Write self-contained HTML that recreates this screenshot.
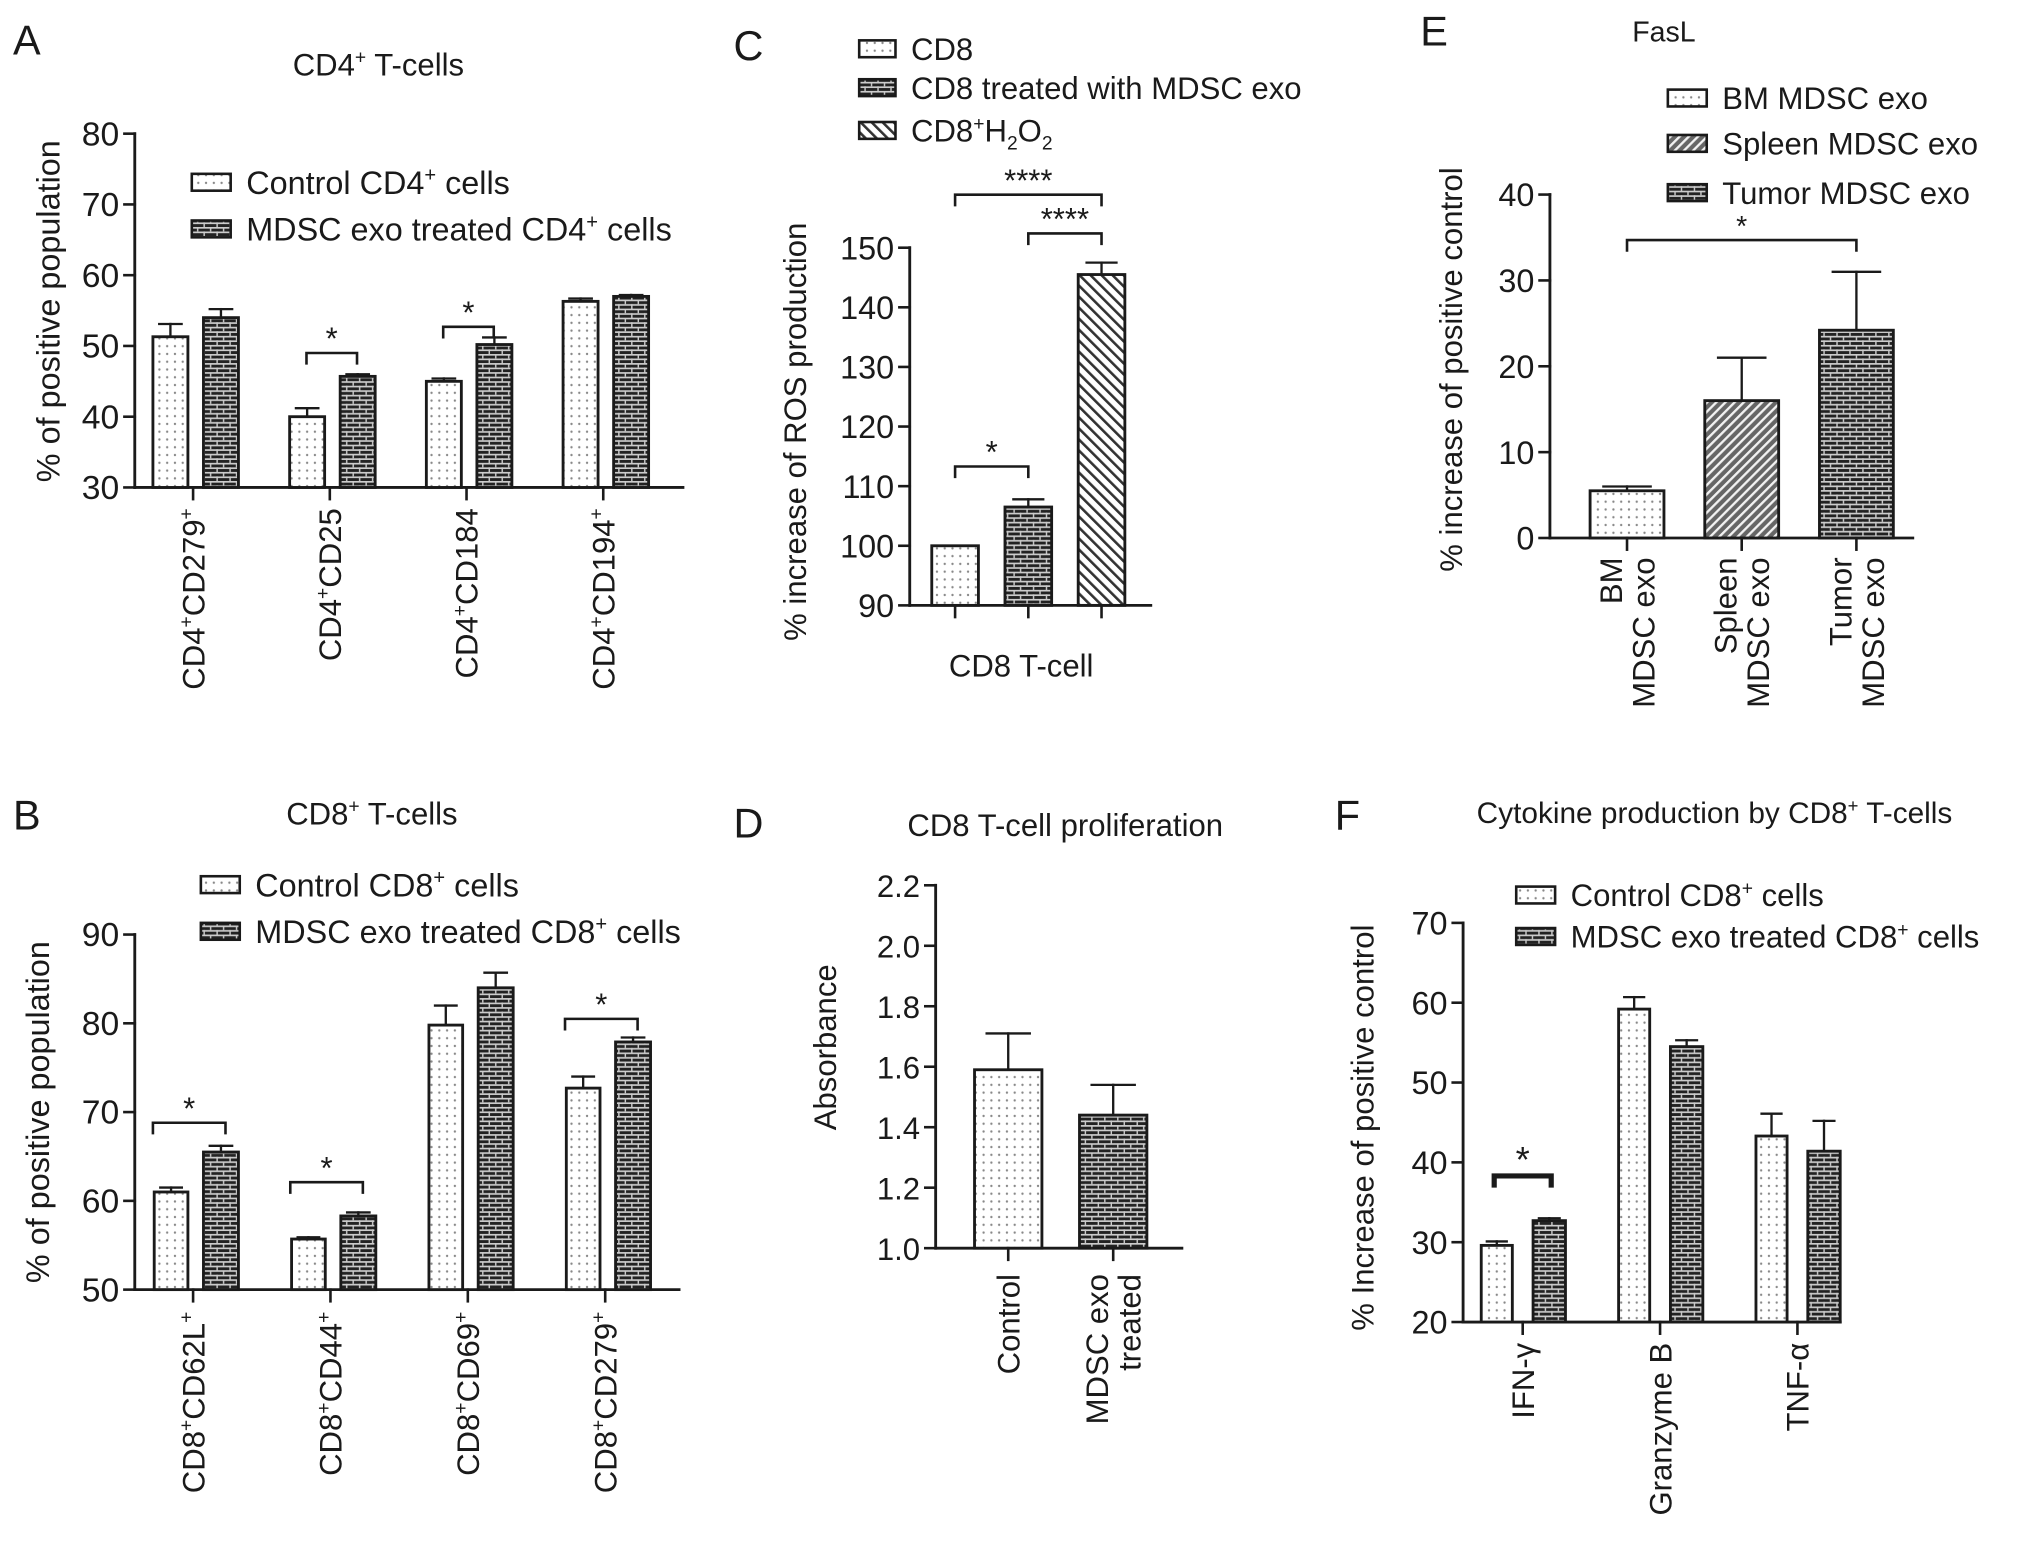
<!DOCTYPE html>
<html><head><meta charset="utf-8">
<style>
html,body{margin:0;padding:0;background:#fff;}
svg{display:block;}
text{font-family:"Liberation Sans",Arial,sans-serif;fill:#1a1a1a;}
.n{font-family:"Liberation Sans Narrow","Liberation Sans",sans-serif;}
</style></head>
<body>
<svg id="fig" xmlns="http://www.w3.org/2000/svg" width="2032" height="1549" viewBox="0 0 1568 1195">
<defs>
<pattern id="dots" width="6" height="6" patternUnits="userSpaceOnUse"><rect width="6" height="6" fill="#fff"/><circle cx="3" cy="3" r="0.9" fill="#888"/></pattern>
<pattern id="brick" width="10" height="7" patternUnits="userSpaceOnUse"><rect width="10" height="7" fill="#222"/><rect x="0" y="0" width="10" height="1.3" fill="#ccc"/><rect x="0" y="3.5" width="10" height="1.3" fill="#ccc"/><rect x="2" y="0" width="1.1" height="3.5" fill="#ccc"/><rect x="7" y="3.5" width="1.1" height="3.5" fill="#ccc"/></pattern>
<pattern id="hatch" width="6" height="6" patternUnits="userSpaceOnUse" patternTransform="rotate(-45)"><rect width="6" height="6" fill="#fff"/><rect x="0" y="0" width="2" height="6" fill="#333"/></pattern>
<pattern id="hatch2" width="5" height="5" patternUnits="userSpaceOnUse" patternTransform="rotate(45)"><rect width="5" height="5" fill="#666"/><rect x="0" y="0" width="1.8" height="5" fill="#f2f2f2"/></pattern>
</defs>
<g id="root"></g>
</svg>
<script>
// ---------- Panel A data ----------
const A_cats = ["CD4|CD279|", "CD4|CD25", "CD4|CD184", "CD4|CD194|"];
const A_ctrl = [51.3, 40.0, 45.0, 56.3];
const A_ctrlErr = [1.8, 1.2, 0.4, 0.4];
const A_mdsc = [54.0, 45.7, 50.2, 57.0];
const A_mdscErr = [1.2, 0.3, 1.0, 0.2];
const A_ticks = [30, 40, 50, 60, 70, 80];
const A_sigGroups = [1, 2];
const A_sigVals = [49.0, 52.7];
// ---------- Panel B data ----------
const B_cats = ["CD8|CD62L|", "CD8|CD44|", "CD8|CD69|", "CD8|CD279|"];
const B_ctrl = [61.0, 55.7, 79.8, 72.7];
const B_ctrlErr = [0.5, 0.2, 2.2, 1.3];
const B_mdsc = [65.5, 58.3, 84.0, 77.9];
const B_mdscErr = [0.7, 0.4, 1.7, 0.5];
const B_ticks = [50, 60, 70, 80, 90];
const B_sigGroups = [0, 1, 3];
const B_sigVals = [68.8, 62.1, 80.5];
// ---------- Panel C data ----------
const C_vals = [100, 106.5, 145.5];
const C_errs = [0, 1.3, 2.0];
const C_ticks = [90, 100, 110, 120, 130, 140, 150];
const C_sigPairs = [[0, 1], [1, 2], [0, 2]];
const C_sigVals = [113.3, 152.4, 158.9];
const C_sigText = ["*", "****", "****"];
// ---------- Panel D data ----------
const D_cats = ["Control", "MDSC exo|treated"];
const D_vals = [1.59, 1.44];
const D_errs = [0.12, 0.10];
const D_ticks = [1.0, 1.2, 1.4, 1.6, 1.8, 2.0, 2.2];
// ---------- Panel E data ----------
const E_cats = ["BM|MDSC exo", "Spleen|MDSC exo", "Tumor|MDSC exo"];
const E_vals = [5.5, 16.0, 24.2];
const E_errs = [0.5, 5.0, 6.8];
const E_ticks = [0, 10, 20, 30, 40];
const E_sigPairs = [[0, 2]];
const E_sigVals = [34.7];
// ---------- Panel F data ----------
const F_cats = ["IFN-γ", "Granzyme B", "TNF-α"];
const F_ctrl = [29.6, 59.2, 43.3];
const F_ctrlErr = [0.5, 1.5, 2.8];
const F_mdsc = [32.7, 54.5, 41.4];
const F_mdscErr = [0.3, 0.8, 3.8];
const F_ticks = [20, 30, 40, 50, 60, 70];
const F_sigGroups = [0];
const F_sigVals = [38.3];

const NS = "http://www.w3.org/2000/svg";
const root = document.getElementById('root');
function mk(tag, attrs, parent) {
  const e = document.createElementNS(NS, tag);
  for (const k in attrs) e.setAttribute(k, attrs[k]);
  (parent || root).appendChild(e);
  return e;
}
function line(x1, y1, x2, y2, sw, p) { return mk('line', {x1, y1, x2, y2, stroke: '#1a1a1a', 'stroke-width': sw || 2, 'stroke-linecap': 'square'}, p); }
function txt(x, y, s, size, opts, p) {
  const a = Object.assign({x, y, 'font-size': size}, opts || {});
  const t = mk('text', a, p);
  t.textContent = s;
  return t;
}
function richText(x, y, str, size, opts, p) {
  const t = mk('text', Object.assign({x, y, 'font-size': size}, opts || {}), p);
  const re = /(\^[^^]*\^|_[^_]*_)/g;
  const parts = str.split(re).filter(s => s !== '');
  let shift = 0;
  parts.forEach(part => {
    const ts = document.createElementNS(NS, 'tspan');
    let d = 0, fs = size;
    if (part[0] === '^') { d = -size * 0.38; fs = size * 0.62; part = part.slice(1, -1); }
    else if (part[0] === '_') { d = size * 0.25; fs = size * 0.62; part = part.slice(1, -1); }
    ts.setAttribute('dy', d - shift);
    ts.setAttribute('font-size', fs);
    shift = d;
    ts.textContent = part;
    t.appendChild(ts);
  });
  return t;
}
function yScale(L) { return v => L.bot - (v - L.vmin) / (L.vmax - L.vmin) * (L.bot - L.top); }

function axes(L, ticks, cls, name) {
  const g = mk('g', {class: cls || ''});
  
  
  const y = yScale(L);
  line(L.ax, y(L.vmax), L.ax, L.bot, 2.2, g);
  line(L.ax, L.bot, L.xEnd, L.bot, 2.2, g);
  ticks.forEach(v => {
    line(L.ax - 8, y(v), L.ax, y(v), 2, g);
    const t = txt(L.ax - 12, y(v) + 9, L.fmt ? L.fmt(v) : String(v), L.tickSize || 23, {'text-anchor': 'end', class: cls || ''}, g);
    
    
  });
  return g;
}
function bar(L, x, w, v, err, fill, name) {
  const y = yScale(L);
  const r = mk('rect', {x, y: y(v), width: w, height: L.bot - y(v), fill, stroke: '#1a1a1a', 'stroke-width': 2.2});
  
  
  if (err > 0) {
    const cx = x + w / 2, cw = w * 0.32;
    const e1 = line(cx, y(v), cx, y(v + err), 1.8);
    
    
    line(cx - cw, y(v + err), cx + cw, y(v + err), 1.8);
  }
  return r;
}
function bracket(L, x1, x2, v, star, sw, name, starSize) {
  const y = yScale(L)(v);
  const g = mk('g', {});
  
  
  const s = sw || 2;
  mk('polyline', {points: `${x1},${y + 9} ${x1},${y} ${x2},${y} ${x2},${y + 9}`, fill: 'none', stroke: '#1a1a1a', 'stroke-width': s}, g);
  txt((x1 + x2) / 2, y - 3, star, starSize || 24, {'text-anchor': 'middle'}, g);
}
function xTick(L, cx) { line(cx, L.bot, cx, L.bot + 9, 2); }
function rotLabel(cx, yTop, str, size, cls, name) {
  const lines = str.split('\n');
  const n = lines.length, lh = size * 1.05;
  lines.forEach((ln, i) => {
    const off = (i - (n - 1) / 2) * lh + size * 0.36;
    const t = richText(0, 0, ln, size, {'text-anchor': 'end', transform: `translate(${cx + off},${yTop}) rotate(-90)`, class: cls || ''});
    
    
  });
}
function supLabel(s) {
  return s.split('|').map((p, i, arr) => i < arr.length - 1 ? p + '^+^' : p).join('');
}
function legendEntry(x, y, w, h, fill, label, size, cls, name) {
  const g = mk('g', {});
  
  
  mk('rect', {x, y, width: w, height: h, fill, stroke: '#1a1a1a', 'stroke-width': 2}, g);
  richText(x + w + 12, y + h / 2 + size * 0.36, label, size, {class: cls || ''}, g);
}
function title(x, y, s, size, cls, name, anchor) {
  const t = richText(x, y, s, size, {'text-anchor': anchor || 'middle', class: cls || ''});
  
  
}
function yTitle(x, cy, s, size, cls, name) {
  const t = richText(0, 0, s, size, {'text-anchor': 'middle', transform: `translate(${x},${cy}) rotate(-90)`, class: cls || ''});
  
  
}

// ================= Panel A =================
(function () {
  const L = {ax: 104, top: 103, bot: 376, vmin: 30, vmax: 80, xEnd: 527, tickSize: 26};
  axes(L, A_ticks, 'n', 'panel-a');
  const c0 = 149, gs = 105.5;
  A_cats.forEach((c, i) => {
    const cx = c0 + i * gs;
    bar(L, cx - 31, 27, A_ctrl[i], A_ctrlErr[i], 'url(#dots)', 'bar-a-control-' + i);
    bar(L, cx + 8, 27, A_mdsc[i], A_mdscErr[i], 'url(#brick)', 'bar-a-mdsc-' + i);
    xTick(L, cx);
    rotLabel(cx, 392, supLabel(c), 24, 'n', 'panel-a-x-label');
  });
  A_sigGroups.forEach((g, k) => { const cx = c0 + g * gs; bracket(L, cx - 18, cx + 21, A_sigVals[k], '*', 2, 'panel-a-significance'); });
  title(10, 42, 'A', 32, '', 'panel-a-letter', 'start');
  title(292, 58, 'CD4^+^ T-cells', 24, 'n', 'panel-a-title');
  yTitle(46, 240, '% of positive population', 25, '', 'panel-a-y-title');
  legendEntry(148, 134, 30, 13, 'url(#dots)', 'Control CD4^+^ cells', 25, 'n', 'legend-control-cd4');
  legendEntry(148, 170, 30, 13, 'url(#brick)', 'MDSC exo treated CD4^+^ cells', 25, 'n', 'legend-mdsc-cd4');
})();

// ================= Panel B =================
(function () {
  const L = {ax: 104, top: 721, bot: 995, vmin: 50, vmax: 90, xEnd: 524, tickSize: 26};
  axes(L, B_ticks, 'n', 'panel-b');
  const c0 = 149, gs = 106;
  B_cats.forEach((c, i) => {
    const cx = c0 + i * gs;
    bar(L, cx - 30, 26, B_ctrl[i], B_ctrlErr[i], 'url(#dots)', 'bar-b-control-' + i);
    bar(L, cx + 8, 27, B_mdsc[i], B_mdscErr[i], 'url(#brick)', 'bar-b-mdsc-' + i);
    xTick(L, cx);
    rotLabel(cx, 1012, supLabel(c), 24, 'n', 'panel-b-x-label');
  });
  B_sigGroups.forEach((g, k) => { const cx = c0 + g * gs; bracket(L, cx - 31, cx + 25, B_sigVals[k], '*', 2, 'panel-b-significance'); });
  title(10, 640, 'B', 32, '', 'panel-b-letter', 'start');
  title(287, 636, 'CD8^+^ T-cells', 24, 'n', 'panel-b-title');
  yTitle(38, 858, '% of positive population', 25, '', 'panel-b-y-title');
  legendEntry(155, 676, 30, 13, 'url(#dots)', 'Control CD8^+^ cells', 25, 'n', 'legend-control-cd8');
  legendEntry(155, 712, 30, 13, 'url(#brick)', 'MDSC exo treated CD8^+^ cells', 25, 'n', 'legend-mdsc-cd8');
})();

// ================= Panel C =================
(function () {
  const L = {ax: 702, top: 191, bot: 467, vmin: 90, vmax: 150, xEnd: 888, tickSize: 25};
  axes(L, C_ticks, 'n', 'panel-c');
  const c0 = 737, gs = 56.5, w = 36;
  const fills = ['url(#dots)', 'url(#brick)', 'url(#hatch)'];
  C_vals.forEach((v, i) => {
    const cx = c0 + i * gs;
    bar(L, cx - w / 2, w, v, C_errs[i], fills[i], 'bar-c-' + i);
    xTick(L, cx);
  });
  C_sigPairs.forEach((p, k) => bracket(L, c0 + p[0] * gs, c0 + p[1] * gs, C_sigVals[k], C_sigText[k], 2, 'panel-c-significance'));
  title(566, 46, 'C', 32, '', 'panel-c-letter', 'start');
  title(788, 522, 'CD8 T-cell', 24, 'n', 'panel-c-x-title');
  yTitle(622, 333, '% increase of ROS production', 24, '', 'panel-c-y-title');
  legendEntry(663, 31, 28, 13, 'url(#dots)', 'CD8', 24, 'n', 'legend-cd8');
  legendEntry(663, 61, 28, 13, 'url(#brick)', 'CD8 treated with MDSC exo', 24, 'n', 'legend-cd8-mdsc');
  legendEntry(663, 94, 28, 13, 'url(#hatch)', 'CD8^+^H_2_O_2_', 24, 'n', 'legend-cd8-h2o2');
})();

// ================= Panel D =================
(function () {
  const L = {ax: 722, top: 683, bot: 963, vmin: 1.0, vmax: 2.2, xEnd: 912, tickSize: 24, fmt: v => v.toFixed(1)};
  axes(L, D_ticks, 'n', 'panel-d');
  const c0 = 778, gs = 81, w = 52;
  const fills = ['url(#dots)', 'url(#brick)'];
  D_cats.forEach((c, i) => {
    const cx = c0 + i * gs;
    bar(L, cx - w / 2, w, D_vals[i], D_errs[i], fills[i], 'bar-d-' + i);
    xTick(L, cx);
    rotLabel(cx, 983, c.replace('|', '\n'), 24, 'n', 'panel-d-x-label');
  });
  title(566, 646, 'D', 32, '', 'panel-d-letter', 'start');
  title(822, 645, 'CD8 T-cell proliferation', 24, 'n', 'panel-d-title');
  yTitle(645, 808, 'Absorbance', 24, 'n', 'panel-d-y-title');
})();

// ================= Panel E =================
(function () {
  const L = {ax: 1196, top: 150, bot: 415, vmin: 0, vmax: 40, xEnd: 1476, tickSize: 25};
  axes(L, E_ticks, '', 'panel-e');
  const c0 = 1255.5, gs = 88.5, w = 57;
  const fills = ['url(#dots)', 'url(#hatch2)', 'url(#brick)'];
  E_cats.forEach((c, i) => {
    const cx = c0 + i * gs;
    bar(L, cx - w / 2, w, E_vals[i], E_errs[i], fills[i], 'bar-e-' + i);
    xTick(L, cx);
    rotLabel(cx, 430, c.replace('|', '\n'), 24, '', 'panel-e-x-label');
  });
  E_sigPairs.forEach((p, k) => bracket(L, c0 + p[0] * gs, c0 + p[1] * gs, E_sigVals[k], '*', 2, 'panel-e-significance', 22));
  title(1096, 35, 'E', 32, '', 'panel-e-letter', 'start');
  title(1284, 32, 'FasL', 22, '', 'panel-e-title');
  yTitle(1128, 285, '% increase of positive control', 24, '', 'panel-e-y-title');
  legendEntry(1287, 69, 30, 13, 'url(#dots)', 'BM MDSC exo', 24, '', 'legend-bm');
  legendEntry(1287, 104, 30, 13, 'url(#hatch2)', 'Spleen MDSC exo', 24, '', 'legend-spleen');
  legendEntry(1287, 142, 30, 13, 'url(#brick)', 'Tumor MDSC exo', 24, '', 'legend-tumor');
})();

// ================= Panel F =================
(function () {
  const L = {ax: 1129, top: 712, bot: 1020, vmin: 20, vmax: 70, xEnd: 1420, tickSize: 25};
  axes(L, F_ticks, '', 'panel-f');
  const c0 = 1175, gs = 106;
  F_cats.forEach((c, i) => {
    const cx = c0 + i * gs;
    bar(L, cx - 32, 24, F_ctrl[i], F_ctrlErr[i], 'url(#dots)', 'bar-f-control-' + i);
    bar(L, cx + 8, 25, F_mdsc[i], F_mdscErr[i], 'url(#brick)', 'bar-f-mdsc-' + i);
    xTick(L, cx);
    rotLabel(cx, 1036, c, 24, '', 'panel-f-x-label');
  });
  F_sigGroups.forEach((g, k) => { const cx = c0 + g * gs; bracket(L, cx - 22, cx + 22, F_sigVals[k], '*', 4, 'panel-f-significance', 28); });
  title(1030, 640, 'F', 32, '', 'panel-f-letter', 'start');
  title(1323, 635, 'Cytokine production by CD8^+^ T-cells', 23, '', 'panel-f-title');
  yTitle(1060, 870, '% Increase of positive control', 24, '', 'panel-f-y-title');
  legendEntry(1170, 684, 30, 13, 'url(#dots)', 'Control CD8^+^ cells', 24, '', 'legend-f-control');
  legendEntry(1170, 716, 30, 13, 'url(#brick)', 'MDSC exo treated CD8^+^ cells', 24, '', 'legend-f-mdsc');
})();
</script>
</body></html>
